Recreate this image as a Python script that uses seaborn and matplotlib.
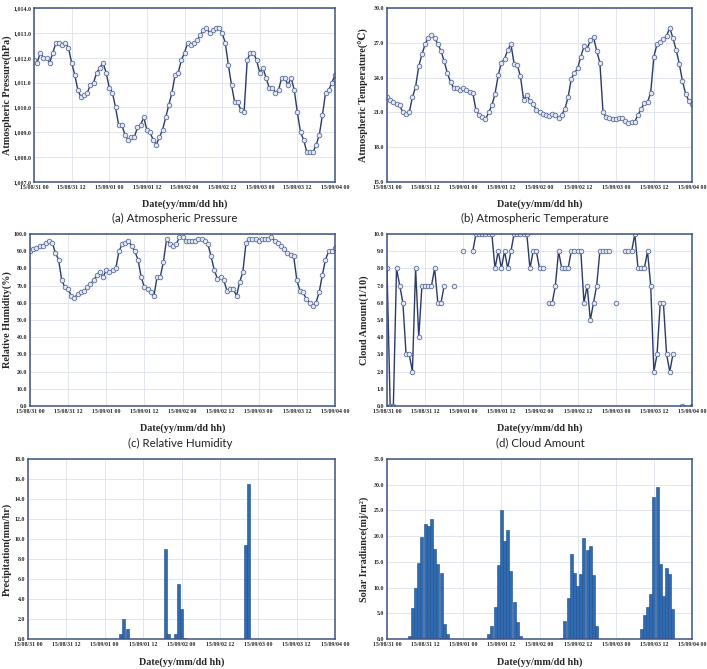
import numpy as np
import pandas as pd
import matplotlib
matplotlib.use("Agg")
import matplotlib.pyplot as plt
import seaborn as sns

# ---------------- data ----------------
hours = list(range(97))
xtick_hours = [0, 12, 24, 36, 48, 60, 72, 84, 96]
xtick_labels = ["15/08/31 00", "15/08/31 12", "15/09/01 00", "15/09/01 12",
                "15/09/02 00", "15/09/02 12", "15/09/03 00", "15/09/03 12",
                "15/09/04 00"]

pressure = [1011.9, 1011.8, 1012.2, 1012.0, 1012.0, 1011.8, 1012.2,
            1012.6, 1012.6, 1012.5, 1012.6, 1012.4,
            1011.8, 1011.3, 1010.7, 1010.4,
            1010.5, 1010.6, 1010.9, 1011.0, 1011.4, 1011.6, 1011.8,
            1011.4, 1010.8, 1010.6, 1010.0,
            1009.3, 1009.3, 1008.9, 1008.7,
            1008.8, 1008.8, 1009.2, 1009.3, 1009.6,
            1009.1, 1009.0, 1008.7, 1008.5,
            1008.8, 1009.1, 1009.6, 1010.1, 1010.6, 1011.3,
            1011.4, 1011.9, 1012.2, 1012.6,
            1012.5, 1012.6, 1012.7, 1012.9, 1013.1, 1013.2,
            1013.0, 1013.1, 1013.2, 1013.2,
            1013.0, 1012.6, 1011.7, 1010.9, 1010.2,
            1010.2, 1009.9, 1009.8,
            1011.9, 1012.2, 1012.2, 1011.9,
            1011.4, 1011.6,
            1011.2, 1010.8, 1010.8, 1010.6,
            1010.7, 1011.2, 1011.2, 1010.9, 1011.2, 1010.7, 1009.8,
            1009.0, 1008.7, 1008.2, 1008.2, 1008.2,
            1008.5, 1008.9, 1009.7, 1010.6, 1010.7, 1011.0, 1011.3]

temperature = [22.3, 22.1, 21.9, 21.7, 21.6, 21.0, 20.9, 21.0, 22.3, 23.2, 25.0, 26.0, 26.9, 27.4, 27.7,
               27.4, 26.9, 26.3, 25.4, 24.4, 23.6, 23.1, 23.1, 22.9, 23.1, 22.9, 22.8, 22.7,
               21.2, 20.8, 20.6, 20.4,
               21.0, 21.6, 22.6, 24.2, 25.3, 25.6, 26.4, 26.9,
               25.2, 25.1, 24.1, 22.1,
               22.5, 22.0, 21.7, 21.2, 21.0, 20.9, 20.8, 20.7, 20.9, 20.8, 20.5,
               20.8, 21.3, 22.3, 23.9, 24.4, 24.8, 25.8, 26.7, 26.5, 27.2, 27.5,
               26.3, 25.3, 21.0,
               20.6, 20.5, 20.4, 20.4, 20.5, 20.5, 20.3, 20.1, 20.2, 20.2, 20.8, 21.3, 21.8, 21.9, 22.7,
               25.8,
               26.9, 27.1, 27.3, 27.6, 28.3,
               27.4, 26.4, 25.2, 23.7, 22.6, 22.0, 21.7]

humidity = [90, 91, 92, 93, 93, 95, 96,
            95, 89, 85, 73, 69, 68, 64, 63,
            65, 66, 67, 69, 71, 73, 76, 78, 75, 79, 78, 79, 80,
            90, 94, 95, 96,
            93, 90, 85, 75, 69, 68, 66, 64,
            75, 75, 84, 97, 94, 93, 94, 98,
            98, 96, 96, 96, 96, 97, 97, 96, 94,
            87, 79, 74, 75, 73, 67, 68, 68, 64, 72, 78,
            95, 97, 97, 97, 96, 97, 97, 97, 98,
            96, 95, 93, 91, 89, 88, 87,
            73, 67, 66, 62, 60, 58,
            60, 66, 76, 85, 90, 90, 92]

nan = np.nan
cloud = [8, 0, 0, 8, 7, 6, 3, 3, 2, 8, 4, 7, 7, 7, 7, 8, 6, 6, 7, nan,
         nan, 7, nan, nan, 9, nan, nan, 9, 10, 10, 10, 10, 10, 10, 8, 9,
         8, 9, 8, 9, 10, 10, 10, 10, 10, 8, 9, 9, 8, 8, nan, 6, 6, 7,
         9, 8, 8, 8, 9, 9, 9, 9, 6, 7, 5, 6, 7, 9, 9, 9, 9, nan,
         6, nan, nan, 9, 9, 9, 10, 8, 8, 8, 9, 7, 2, 3, 6, 6, 3, 2, 3,
         nan, nan, 0, nan, nan, 0]

precip_hours = [29, 30, 31, 43, 44, 46, 47, 48, 49, 68, 69]
precip_vals = [0.5, 2.0, 1.0, 9.0, 0.5, 0.5, 5.5, 3.0, 0.1, 9.4, 15.5]

solar_hours = [7, 8, 9, 10, 11, 12, 13, 14, 15, 16, 17, 18, 19,
               32, 33, 34, 35, 36, 37, 38, 39, 40, 41, 42,
               55, 56, 57, 58, 59, 60, 61, 62, 63, 64, 65, 66,
               80, 81, 82, 83, 84, 85, 86, 87, 88, 89, 90]
solar_vals = [0.5, 6.0, 9.9, 14.8, 19.9, 22.3, 21.9, 23.4, 17.5, 14.5, 12.9, 2.9, 0.9,
              1.0, 2.6, 6.2, 14.3, 25.0, 19.0, 21.2, 13.2, 7.1, 3.3, 0.6,
              0.2, 3.5, 8.0, 16.5, 12.8, 10.4, 12.6, 19.6, 17.4, 18.0, 12.5, 2.6,
              2.0, 4.6, 6.3, 8.8, 27.6, 29.5, 14.6, 8.4, 13.9, 12.7, 5.9]

# ---------------- style ----------------
sns.set_theme(style="whitegrid")
plt.rcParams["font.family"] = ["Liberation Serif", "DejaVu Serif"]

W, H = 707, 669
fig = plt.figure(figsize=(W / 100, H / 100), dpi=100)

SPINE = "#3F5283"
GRID = "#DCE2EC"
LINE = "#2B3A67"
MFC = "#E2E8F4"
MEC = "#5C6C96"
BAR = "#2E6BB3"
BAR_EDGE = "#1E4A86"

label_font = dict(family=["Liberation Serif", "DejaVu Serif"], weight="bold", size=7.3)
tick_font = dict(family=["Liberation Serif", "DejaVu Serif"], weight="bold", size=4.2)


def make_axes(left, top, right, bottom):
    return fig.add_axes([left / W, 1 - bottom / H, (right - left) / W, (bottom - top) / H])


def style(ax, yticks, yfmt, ylabel, ylab_px, left, right):
    ax.set_xlim(0, 96)
    ax.set_ylim(yticks[0], yticks[-1])
    ax.set_xticks(xtick_hours)
    ax.set_xticklabels(xtick_labels, **tick_font)
    ax.set_yticks(yticks)
    ax.set_yticklabels([yfmt.format(v) for v in yticks], **tick_font)
    ax.grid(True, color=GRID, linewidth=0.6)
    ax.set_axisbelow(True)
    for s in ax.spines.values():
        s.set_color(SPINE)
        s.set_linewidth(1.1)
        s.set_visible(True)
    ax.tick_params(length=0, pad=2)
    ax.set_facecolor("white")
    ax.set_xlabel("Date(yy/mm/dd hh)", **label_font)
    ax.set_ylabel(ylabel, **label_font)
    ax.xaxis.set_label_coords(0.5, -0.1)
    # ylab_px is the right-hand edge of the rotated label, in figure pixels
    ax.yaxis.set_label_coords((ylab_px - left) / (right - left), 0.5)


def line_panel(ax, values, units=None):
    df = pd.DataFrame({"h": hours, "v": values})
    kw = dict(color=LINE, linewidth=1.0, marker="o", markersize=3.3,
              markerfacecolor=MFC, markeredgecolor=MEC, markeredgewidth=0.6)
    if units is None:
        sns.lineplot(data=df, x="h", y="v", ax=ax, **kw)
    else:
        df["seg"] = units
        df = df.dropna()
        sns.lineplot(data=df, x="h", y="v", units="seg", estimator=None, ax=ax, **kw)


def bar_panel(ax, hrs, vals):
    df = pd.DataFrame({"h": hrs, "v": vals})
    sns.barplot(data=df, x="h", y="v", native_scale=True, width=0.95, color=BAR,
                saturation=1, edgecolor=BAR_EDGE, linewidth=0.4, errorbar=None, ax=ax)


RR = 692  # right edge of right-hand panels

# (a) pressure
ax_a = make_axes(34, 8, 335, 182)
line_panel(ax_a, pressure)
style(ax_a, list(range(1007, 1015)), "{:,.1f}", "Atmospheric Pressure(hPa)", 12, 34, 335)

# (b) temperature
ax_b = make_axes(387, 8, RR, 182)
line_panel(ax_b, temperature)
style(ax_b, list(range(15, 31, 3)), "{:.1f}", "Atmospheric Temperature(\u2103)", 369, 387, RR)

# (c) humidity
ax_c = make_axes(30, 234, 335, 406)
line_panel(ax_c, humidity)
style(ax_c, list(range(0, 101, 10)), "{:.1f}", "Relative Humidity(%)", 12, 30, 335)

# (d) cloud amount (gaps for missing hours)
mask = np.isnan(np.array(cloud, dtype=float))
seg = np.cumsum(np.r_[True, mask[1:] != mask[:-1]])
ax_d = make_axes(387, 234, RR, 406)
line_panel(ax_d, cloud, units=seg)
style(ax_d, list(range(0, 11)), "{:.1f}", "Cloud Amount(1/10)", 369, 387, RR)

# (e) precipitation
ax_e = make_axes(28, 459, 335, 639)
bar_panel(ax_e, precip_hours, precip_vals)
style(ax_e, list(range(0, 19, 2)), "{:.1f}", "Precipitation(mm/hr)", 12, 28, 335)

# (f) solar irradiance
ax_f = make_axes(387, 459, RR, 639)
bar_panel(ax_f, solar_hours, solar_vals)
style(ax_f, list(range(0, 36, 5)), "{:.1f}", "Solar Irradiance(mj/m\u00b2)", 369, 387, RR)

# captions
cap = dict(family=["Lato", "DejaVu Sans"], size=8.3, ha="center", va="center", color="#222222")
fig.text(175 / W, 1 - 218 / H, "(a) Atmospheric Pressure", **cap)
fig.text(535 / W, 1 - 218 / H, "(b) Atmospheric Temperature", **cap)
fig.text(180 / W, 1 - 443 / H, "(c) Relative Humidity", **cap)
fig.text(540 / W, 1 - 443 / H, "(d) Cloud Amount", **cap)

fig.savefig("out.png", dpi=100, facecolor="white")
